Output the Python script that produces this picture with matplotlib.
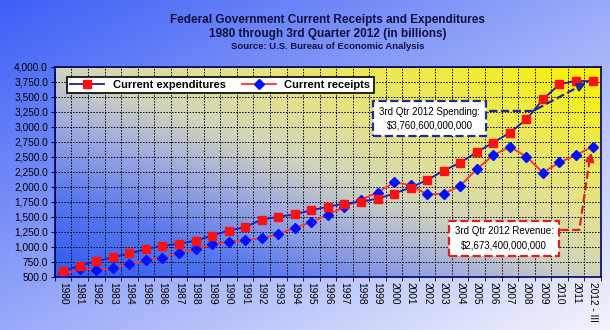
import matplotlib
matplotlib.use("Agg")
import matplotlib.pyplot as plt
import numpy as np
from matplotlib.colors import to_rgb

plt.rcParams['font.family'] = ['Liberation Sans', 'DejaVu Sans']

# data (billions of dollars)
years = [str(y) for y in range(1980, 2012)] + ['2012 - III']
expenditures = [600, 683, 762, 826, 890, 963, 1018, 1052, 1103, 1189,
                1270, 1330, 1455, 1502, 1542, 1612, 1670, 1722, 1752, 1805,
                1888, 1990, 2115, 2270, 2405, 2580, 2740, 2905, 3125, 3460,
                3712, 3770, 3760.6]
receipts = [540, 631, 621, 643, 712, 775, 817, 905, 959, 1047,
            1086, 1110, 1143, 1214, 1319, 1413, 1536, 1667, 1790, 1905,
            2075, 2032, 1875, 1885, 2020, 2295, 2530, 2670, 2505, 2238,
            2410, 2530, 2673.4]
x = np.arange(len(years))

def gradient(stops, cols, n=200, diag='up'):
    # diagonal blend through several colour stops
    rgb = np.array([to_rgb(c) for c in cols])
    u = np.linspace(0, 1, n)
    X, Y = np.meshgrid(u, u)
    if diag == 'up':
        t = (X + (1 - Y)) / 2   # rows go top->bottom in imshow
    else:
        t = (X + Y) / 2
    out = np.zeros((n, n, 3))
    for k in range(3):
        out[..., k] = np.interp(t, stops, rgb[:, k])
    return out

fig = plt.figure(figsize=(6.1, 3.3), dpi=100)

# figure background
bg = fig.add_axes([0, 0, 1, 1], zorder=-10)
bg.imshow(gradient([0, 1], ['#3d5ff6', '#f4f4fc'], diag='down'),
          extent=[0, 1, 0, 1], aspect='auto')
bg.axis('off')

ax = fig.add_axes([0.090, 0.161, 0.895, 0.636])
ax.imshow(gradient([0, 0.2, 0.38, 0.5, 0.65, 1.0],
                   ['#2c5cf2', '#5878ee', '#a4aedc', '#d0d4bc', '#e4e28c', '#faf200']),
          extent=[0, 1, 0, 1], transform=ax.transAxes, aspect='auto', zorder=0)

ax.plot(x, expenditures, color='#1020c0', lw=1.3, marker='s', ms=6,
        mfc='#ff1010', mec='#ff1010', label='Current expenditures', zorder=4)
ax.plot(x, receipts, color='#ff3030', lw=1.3, marker='D', ms=5,
        mfc='#0010ff', mec='#0010ff', label='Current receipts', zorder=3)

ax.set_xlim(-0.5, len(years) - 0.5)
ax.set_ylim(500, 4000)
ax.set_yticks(np.arange(500, 4001, 250))
ax.set_yticklabels([f'{v:,.1f}' for v in np.arange(500, 4001, 250)], fontsize=7.3)
ax.set_xticks(x)
ax.set_xticklabels(years, rotation=270, fontsize=7.3)
ax.set_xticks(np.arange(-0.5, len(years), 1), minor=True)
ax.tick_params(axis='x', which='major', length=0, pad=4)
ax.tick_params(axis='x', which='minor', length=3, color='#000060')
ax.tick_params(axis='y', length=3, color='#000060', pad=2)
ax.grid(True, axis='y', ls=(0, (1.5, 1.5)), color='black', lw=0.7)
ax.grid(True, axis='x', which='minor', ls=(0, (1.5, 1.5)), color='black', lw=0.7)
for s in ax.spines.values():
    s.set_color('#000070')
    s.set_linewidth(1.2)
ax.set_axisbelow(False)

leg = ax.legend(loc='upper left', ncol=2, frameon=True,
                fancybox=False, edgecolor='black', framealpha=1,
                prop={'weight': 'bold', 'size': 8}, handlelength=3,
                columnspacing=1.5, borderpad=0.3, bbox_to_anchor=(0.012, 0.98))
leg.get_frame().set_linewidth(1.2)

# annotation: spending
ax.text(22.15, 3140, '3rd Qtr 2012 Spending:\n$3,760,600,000,000', fontsize=7,
        ha='center', va='center', linespacing=1.5, zorder=6,
        bbox=dict(boxstyle='square,pad=0.6', fc='white', ec='#1a2aa0',
                  ls='--', lw=1.6))
ax.plot([25.75, 28.4, 31.5], [3267, 3267, 3720], ls='--', color='#1a2aa0',
        lw=1.6, zorder=6)
ax.annotate('', xy=(31.75, 3750), xytext=(31.3, 3690),
            arrowprops=dict(arrowstyle='-|>,head_length=0.5,head_width=0.25',
                            color='#1a2aa0', lw=1.6), zorder=6)

# annotation: revenue
ax.text(26.65, 1140, '3rd Qtr 2012 Revenue:\n$2,673,400,000,000', fontsize=7,
        ha='center', va='center', linespacing=1.5, zorder=6,
        bbox=dict(boxstyle='square,pad=0.6', fc='white', ec='#e02020',
                  ls='--', lw=1.6))
ax.plot([30.05, 31.2, 31.85], [1283, 1283, 2500], ls='--', color='#e02020',
        lw=1.6, zorder=6)
ax.annotate('', xy=(31.95, 2620), xytext=(31.85, 2460),
            arrowprops=dict(arrowstyle='-|>,head_length=0.5,head_width=0.25',
                            color='#e02020', lw=1.6), zorder=6)

cx = (0.090 + 0.985) / 2
fig.text(cx, 0.94, 'Federal Government Current Receipts and Expenditures',
         ha='center', va='center', fontsize=8.5, fontweight='bold', color='#101040')
fig.text(cx, 0.898, '1980 through 3rd Quarter 2012 (in billions)',
         ha='center', va='center', fontsize=8.5, fontweight='bold', color='#101040')
fig.text(cx, 0.858, 'Source: U.S. Bureau of Economic Analysis',
         ha='center', va='center', fontsize=6.8, fontweight='bold', color='#101040')

fig.savefig('out.png', dpi=100)
